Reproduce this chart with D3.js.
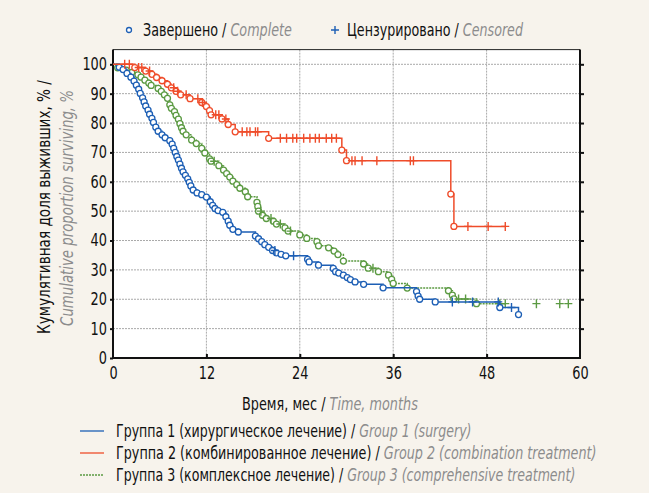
<!DOCTYPE html>
<html>
<head>
<meta charset="utf-8">
<script src="https://cdn.jsdelivr.net/npm/d3@7"></script>
<style>
body { margin: 0; background: #f7f3ec; }
text { font-family: "Liberation Sans Narrow", "DejaVu Sans Condensed", sans-serif; }
</style>
</head>
<body>
<svg id="chart" width="649" height="493"></svg>
<script>
var xTicks = [0, 12, 24, 36, 48, 60];
var yTicks = [0, 10, 20, 30, 40, 50, 60, 70, 80, 90, 100];

// group 1 - surgery: [time, survival after event]
var g1Events = [[0.8,99.0],[1.3,98.2],[1.8,96.9],[2.3,95.6],[2.7,94.3],[3.0,92.9],[3.3,91.5],[3.5,90.1],[3.8,88.6],[4.0,87.2],
  [4.2,85.8],[4.5,84.4],[4.7,83.0],[5.0,81.6],[5.2,80.2],[5.5,78.6],[5.8,77.2],[6.3,76.0],[6.7,75.0],[7.3,74.0],
  [7.6,72.8],[7.8,71.4],[8.0,70.0],[8.2,68.6],[8.4,67.4],[8.6,66.0],[8.8,64.6],[9.0,63.4],[9.3,62.2],[9.6,61.0],
  [9.8,59.8],[10.0,58.6],[10.3,57.2],[10.8,56.2],[11.4,55.6],[12.0,54.8],[12.5,53.2],[12.8,52.0],[13.1,50.9],[13.5,50.2],
  [14.1,49.6],[14.5,48.1],[14.8,46.6],[15.0,45.2],[15.4,43.8],[16.1,42.9],[18.3,41.5],[18.7,40.6],[19.1,39.6],[19.5,38.6],
  [20.0,37.7],[20.5,36.6],[21.0,35.8],[21.6,35.3],[22.2,34.8],[25.0,33.6],[25.2,32.7],[26.4,31.6],[28.3,30.5],[28.6,29.4],
  [29.0,28.9],[29.6,28.2],[30.1,27.4],[30.5,26.7],[31.1,25.9],[32.2,25.1],[34.7,23.9],[39.0,22.6],[39.2,21.1],[39.4,20.0],
  [41.4,19.1],[49.7,17.2],[52.1,14.8]];
var g1Censored = [20.8, 23.2, 43.6, 46.2, 49.5, 51.2];
var g1End = 52.1;

// group 2 - combination treatment
var g2Events = [[2.8,98.9],[4.2,97.7],[5.0,96.6],[5.6,95.5],[6.3,94.4],[7.0,93.2],[7.5,92.0],[8.1,90.8],[8.7,89.6],[9.9,88.3],
  [11.4,87.0],[12.0,85.6],[12.4,84.2],[12.6,82.8],[14.0,81.4],[14.8,79.5],[15.7,77.0],[20.0,74.8],[29.4,70.8],[30.0,67.2],
  [43.4,55.8],[43.8,44.8]];
var g2Censored = [1.5, 2.1, 3.3, 3.7, 4.7, 7.8, 8.3, 9.4, 10.9, 11.5, 13.2, 13.6, 14.5, 16.6, 17.2, 17.6, 18.3, 18.6,
  21.5, 22.3, 23.1, 23.6, 24.5, 25.3, 26.0, 26.5, 27.4, 28.1, 28.7, 30.7, 31.1, 32.0, 33.9, 38.2, 38.6, 45.6, 48.2, 50.4];
var g2End = 50.5;

// group 3 - comprehensive treatment
var g3Events = [[0.6,98.8],[1.7,98.0],[2.4,97.2],[3.2,96.4],[3.6,95.6],[4.1,94.6],[4.6,93.6],[4.9,92.8],[5.8,91.8],[6.2,90.8],
  [6.6,89.6],[7.0,88.4],[7.3,86.2],[7.5,85.0],[7.9,83.9],[8.1,82.6],[8.4,81.3],[8.6,79.8],[8.8,78.4],[9.0,77.2],
  [9.4,76.0],[10.1,74.2],[10.7,73.0],[11.4,71.4],[11.8,69.8],[12.4,67.8],[12.6,67.0],[13.6,65.5],[14.2,64.0],[14.6,62.8],
  [15.0,61.6],[15.4,60.2],[15.9,59.0],[16.3,57.8],[17.0,56.6],[17.3,54.9],[18.5,53.0],[18.6,51.6],[18.7,50.0],[19.2,48.6],
  [19.7,47.5],[20.6,46.6],[21.0,45.6],[22.1,44.3],[22.5,43.2],[24.0,41.9],[24.9,40.7],[26.2,39.6],[26.4,38.2],[27.7,37.5],
  [28.4,36.4],[28.9,35.2],[29.6,33.0],[32.2,32.0],[32.8,30.6],[34.1,29.4],[35.4,28.2],[35.8,26.8],[36.0,25.4],[37.8,23.8],
  [43.1,22.9],[43.6,21.4],[43.8,20.1],[46.7,18.5]];
var g3Censored = [13.0, 19.0, 20.3, 21.5, 22.8, 33.4, 44.4, 45.3, 49.7, 50.4, 54.4, 57.4, 58.5];
var g3End = 50.4;

var groups = [
  {events: g3Events, censored: g3Censored, end: g3End, color: "#5b9a42", dash: "2,1"},
  {events: g1Events, censored: g1Censored, end: g1End, color: "#1d5fb5", dash: null},
  {events: g2Events, censored: g2Censored, end: g2End, color: "#ef4c2a", dash: null}
];

var legendRu = ["Группа 1 (хирургическое лечение) / ", "Группа 2 (комбинированное лечение) / ", "Группа 3 (комплексное лечение) / "];
var legendEn = ["Group 1 (surgery)", "Group 2 (combination treatment)", "Group 3 (comprehensive treatment)"];
var legendColors = ["#1d5fb5", "#ef4c2a", "#5b9a42"];
var legendWidths = [356, 481, 460];

var grey = "#8c8c8c";
var svg = d3.select("#chart");
var x = d3.scaleLinear().domain([0, 60]).range([113, 580]);
var y = d3.scaleLinear().domain([0, 100]).range([358, 64.3]);

// text squeezed to the width of the narrow font used in the original
function fitText(parent, parts, o) {
  var t = parent.append("text").attr("font-size", o.size || 17).attr("text-anchor", o.anchor || "start");
  parts.forEach(function(p){
    t.append("tspan").attr("font-style", p.it ? "italic" : null).attr("fill", p.it ? grey : "#111").text(p.s);
  });
  var k = o.width / t.node().getComputedTextLength();
  t.attr("transform", "translate(" + o.x + "," + o.y + ")" + (o.rot ? " rotate(-90)" : "") + " scale(" + k + ",1)");
  return t;
}

// plot background
svg.append("rect").attr("x", x(0)).attr("y", y(105)).attr("width", x(60) - x(0)).attr("height", y(0) - y(105))
  .attr("fill", "#fff");

// grid
svg.selectAll(".gy").data(yTicks.filter(function(d){ return d > 0; })).enter().append("line")
  .attr("x1", x(0)).attr("x2", x(60)).attr("y1", function(d){ return y(d); }).attr("y2", function(d){ return y(d); })
  .attr("stroke", "#a9a9a9").attr("stroke-width", 1).attr("stroke-dasharray", "2,1");
svg.selectAll(".gx").data(xTicks.filter(function(d){ return d > 0 && d < 60; })).enter().append("line")
  .attr("y1", y(105)).attr("y2", y(0)).attr("x1", function(d){ return x(d); }).attr("x2", function(d){ return x(d); })
  .attr("stroke", "#a9a9a9").attr("stroke-width", 1).attr("stroke-dasharray", "2,1");

// frame
svg.append("line").attr("x1", x(0)).attr("x2", x(60)).attr("y1", y(105)).attr("y2", y(105)).attr("stroke", "#222").attr("stroke-width", 1);
svg.append("line").attr("x1", x(0)).attr("x2", x(0)).attr("y1", y(105)).attr("y2", y(0) + 1).attr("stroke", "#111").attr("stroke-width", 2);
svg.append("line").attr("x1", x(60)).attr("x2", x(60)).attr("y1", y(105)).attr("y2", y(0) + 1).attr("stroke", "#111").attr("stroke-width", 2);
svg.append("line").attr("x1", x(0) - 1).attr("x2", x(60) + 1).attr("y1", y(0)).attr("y2", y(0)).attr("stroke", "#111").attr("stroke-width", 2);

// axes
var yAxis = svg.append("g").attr("transform", "translate(" + x(0) + ",0)")
  .call(d3.axisLeft(y).tickValues(yTicks).tickSize(3).tickPadding(3));
var yAxisR = svg.append("g").attr("transform", "translate(" + x(60) + ",0)")
  .call(d3.axisLeft(y).tickValues(yTicks.filter(function(d){ return d > 0; })).tickSize(-4).tickFormat(""));
var xAxis = svg.append("g").attr("transform", "translate(0," + y(0) + ")")
  .call(d3.axisBottom(x).tickValues(xTicks).tickSize(-4).tickPadding(8));
[yAxis, yAxisR, xAxis].forEach(function(a){
  a.select(".domain").remove();
  a.selectAll(".tick line").attr("stroke", "#111").attr("stroke-width", 2);
  a.selectAll("text").attr("font-size", 17).attr("fill", "#111")
    .attr("textLength", function(d){ return String(d).length * 8.2; })
    .attr("lengthAdjust", "spacingAndGlyphs");
});
xAxis.selectAll(".tick line").filter(function(d){ return d == 0 || d == 60; }).remove();
xAxis.selectAll("text").attr("dy", "0.75em");

// curves
function kmPoints(events, end) {
  var pts = [[0, 100]], s = 100;
  events.forEach(function(e){ pts.push([e[0], s]); pts.push([e[0], e[1]]); s = e[1]; });
  pts.push([end, s]);
  return pts;
}
function survAt(events, t) {
  var s = 100;
  events.forEach(function(e){ if (e[0] <= t) s = e[1]; });
  return s;
}
var line = d3.line().x(function(d){ return x(d[0]); }).y(function(d){ return y(d[1]); });

groups.forEach(function(g){
  var gg = svg.append("g");
  gg.append("path").attr("d", line(kmPoints(g.events, g.end)))
    .attr("fill", "none").attr("stroke", g.color).attr("stroke-width", 1.5)
    .attr("stroke-dasharray", g.dash);
  gg.selectAll(".ev").data(g.events).enter().append("circle")
    .attr("cx", function(d){ return x(d[0]); }).attr("cy", function(d){ return y(d[1]); })
    .attr("r", 3).attr("fill", "#fff").attr("stroke", g.color).attr("stroke-width", 1.3);
  gg.selectAll(".cens").data(g.censored).enter().append("path")
    .attr("d", function(t){
      var cx = x(t), cy = y(survAt(g.events, t));
      return "M" + (cx - 4) + "," + cy + "H" + (cx + 4) + "M" + cx + "," + (cy - 4.5) + "V" + (cy + 4.5);
    })
    .attr("stroke", g.color).attr("stroke-width", 1.4).attr("fill", "none");
});

// top legend
var topLeg = svg.append("g");
topLeg.append("circle").attr("cx", 129).attr("cy", 30).attr("r", 2.5).attr("fill", "#fff").attr("stroke", "#1d5fb5").attr("stroke-width", 1.3);
fitText(topLeg, [{s: "Завершено / "}, {s: "Complete", it: true}], {x: 143, y: 36, width: 149});
topLeg.append("path").attr("d", "M331,30H339M335,26V34").attr("stroke", "#1d5fb5").attr("stroke-width", 1.4);
fitText(topLeg, [{s: "Цензурировано / "}, {s: "Censored", it: true}], {x: 347, y: 36, width: 176});

// axis titles
fitText(svg, [{s: "Время, мес / "}, {s: "Time, months", it: true}], {x: 242, y: 410, width: 176});
fitText(svg, [{s: "Кумулятивная доля выживших, % /"}], {x: 50, y: 207, width: 254, anchor: "middle", rot: true});
fitText(svg, [{s: "Cumulative proportion surviving,   %", it: true}], {x: 73, y: 208, width: 236, anchor: "middle", rot: true});

// bottom legend
legendRu.forEach(function(d, i){
  var row = 431 + i * 22;
  svg.append("line").attr("x1", 80).attr("x2", 104).attr("y1", row).attr("y2", row)
    .attr("stroke", legendColors[i]).attr("stroke-width", 1.3)
    .attr("stroke-dasharray", i == 2 ? "2,1" : null);
  fitText(svg, [{s: d}, {s: legendEn[i], it: true}], {x: 116, y: row + 6, width: legendWidths[i]});
});
</script>
</body>
</html>
